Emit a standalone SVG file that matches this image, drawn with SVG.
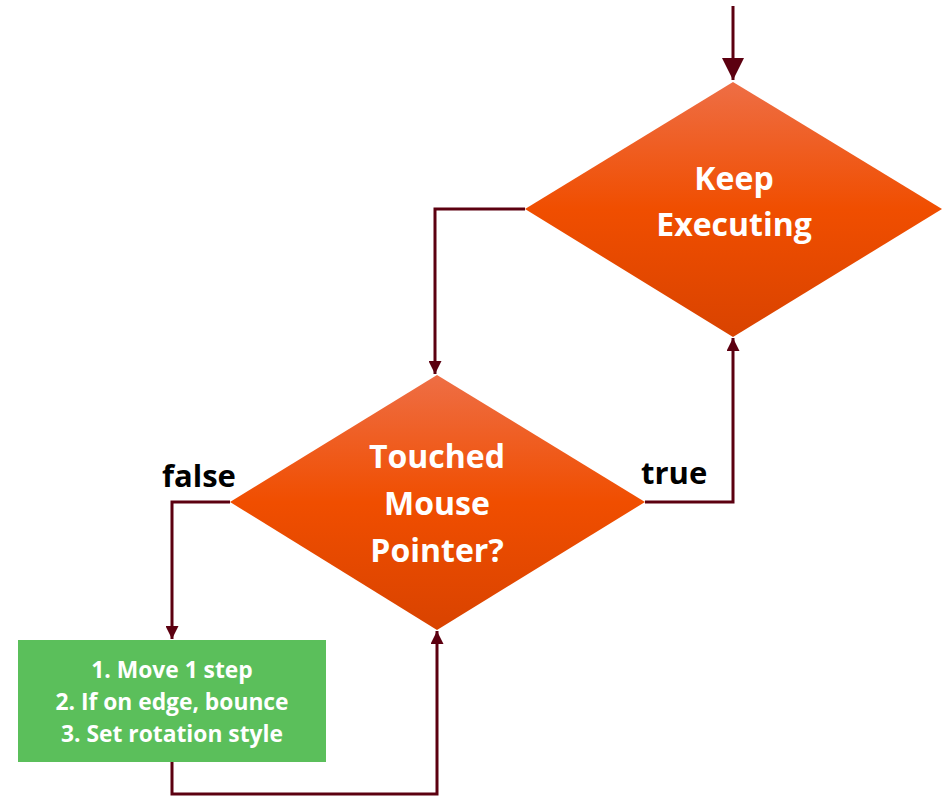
<svg xmlns="http://www.w3.org/2000/svg" width="945" height="796" viewBox="0 0 945 796">
<defs>
<linearGradient id="dg" x1="0" y1="0" x2="0" y2="1">
<stop offset="0" stop-color="#EE6E45"/>
<stop offset="0.5" stop-color="#F04E00"/>
<stop offset="1" stop-color="#D94300"/>
</linearGradient>
<marker id="big" markerWidth="22" markerHeight="22" refX="22" refY="11" orient="auto" markerUnits="userSpaceOnUse" viewBox="0 0 22 22">
<path d="M0,0 L22,11 L0,22 Z" fill="#5C0010"/>
</marker>
<marker id="sm" markerWidth="13" markerHeight="13" refX="13" refY="6.5" orient="auto" markerUnits="userSpaceOnUse" viewBox="0 0 13 13">
<path d="M0,0 L13,6.5 L0,13 Z" fill="#5C0010"/>
</marker>
</defs>
<style>
.dia{fill:url(#dg);}
.dt{font-family:"Open Sans","Liberation Sans",sans-serif;font-weight:bold;font-size:32px;fill:#fff;text-anchor:middle;}
.bt{font-family:"Open Sans","Liberation Sans",sans-serif;font-weight:bold;font-size:22.8px;fill:#fff;text-anchor:middle;}
.lb{font-family:"Open Sans","Liberation Sans",sans-serif;font-weight:bold;font-size:31px;fill:#000;}
.c{fill:none;stroke:#5C0010;stroke-width:3;}
</style>
<g id="connectors">
<path class="c" d="M733,6 V80" marker-end="url(#big)"/>
<path class="c" d="M525,209 H435 V374" marker-end="url(#sm)"/>
<path class="c" d="M645,502 H733 V338" marker-end="url(#sm)"/>
<path class="c" d="M230,502 H172 V639" marker-end="url(#sm)"/>
<path class="c" d="M172,762 V794 H437 V631" marker-end="url(#sm)"/>
<text class="lb" x="162" y="487">false</text>
<text class="lb" x="641" y="484">true</text>
</g>
<g id="keep">
<polygon class="dia" points="733,82 942,209 733,337 525,209"/>
<text class="dt" x="734" y="190">Keep</text>
<text class="dt" x="734" y="236">Executing</text>
</g>
<g id="touched">
<polygon class="dia" points="437,375 645,502 437,630 230,502"/>
<text class="dt" x="437" y="468">Touched</text>
<text class="dt" x="437" y="515">Mouse</text>
<text class="dt" x="437" y="562">Pointer?</text>
</g>
<g id="action">
<rect x="18" y="640" width="308" height="122" fill="#5BBF5B"/>
<text class="bt" x="172" y="678">1. Move 1 step</text>
<text class="bt" x="172" y="710">2. If on edge, bounce</text>
<text class="bt" x="172" y="742">3. Set rotation style</text>
</g>
</svg>
